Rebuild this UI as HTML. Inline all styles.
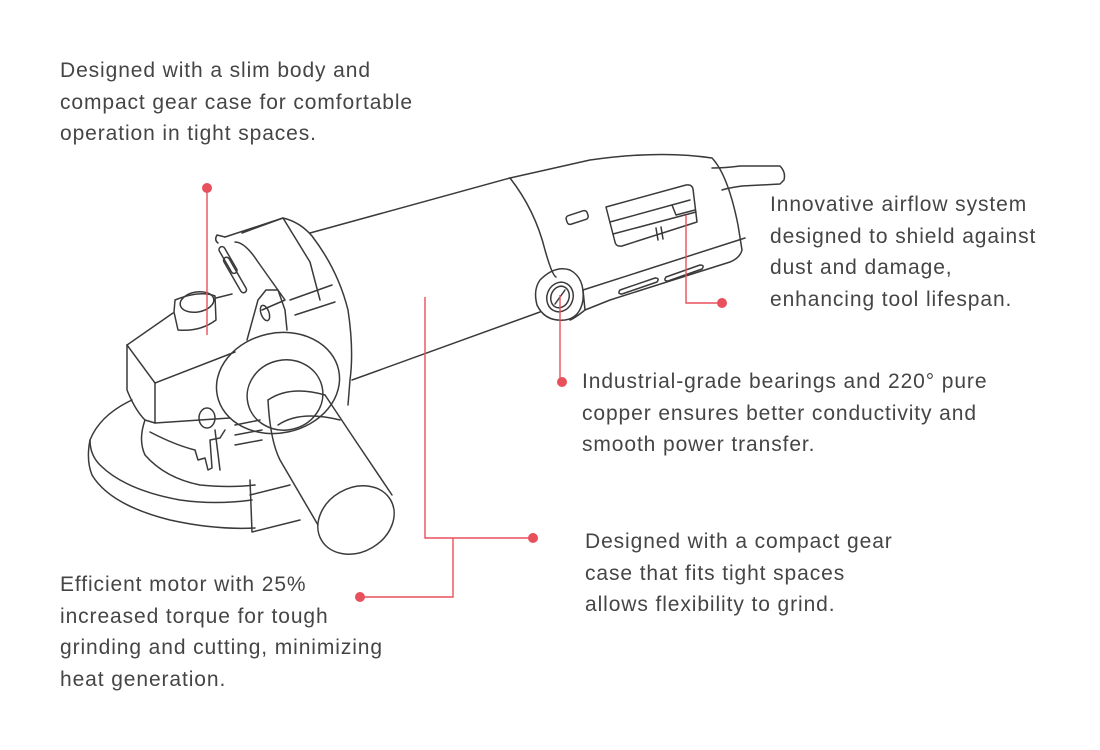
<!DOCTYPE html>
<html><head><meta charset="utf-8"><style>
html,body{margin:0;padding:0;background:#fff;}
body{width:1100px;height:750px;position:relative;overflow:hidden;font-family:"Liberation Sans",sans-serif;}
.t{position:absolute;color:#454545;font-size:21px;line-height:31.5px;letter-spacing:0.9px;white-space:nowrap;}
svg{position:absolute;left:0;top:0;}
</style></head><body>
<svg width="1100" height="750" viewBox="0 0 1100 750">
<g fill="none" stroke="#3a3a3a" stroke-width="1.5" stroke-linejoin="round" stroke-linecap="round">
<path d="M310 233 L510 178"/>
<path d="M352 380 L540 312"/>
<path d="M510 178 L590 160 Q660 150 712 158 Q728 175 738 225 L742 250 Q740 258 730 262 L610 300 L585 310 Q575 318 570 320"/>
<path d="M510 178 Q535 210 545 250 Q552 275 556 277"/>
<path d="M585 310 L583 290 L745 238"/>
<path d="M712 168 Q725 168 740 166 L780 166 Q786 172 784 180 L780 184 L742 186 Q728 188 722 190"/>
<path d="M606 207 L686 185 Q692 184 693 189 L697 222 L622 246 Q616 247 615 242 Z"/>
<path d="M610 222 L690 200"/>
<path d="M613 234 L696 212"/>
<path d="M672 205 L676 215 L695 210"/>
<path d="M656 228 L658 240 M661 227 L663 239"/>
<rect x="566" y="213" width="22" height="9" rx="3" transform="rotate(-18 577 217)"/>
<path d="M620 290 L655 278 Q660 278 657 282 L622 294 Q617 294 620 290Z"/>
<path d="M666 277 L700 265 Q705 265 702 269 L668 281 Q663 281 666 277Z"/>
<path d="M540 280 Q555 265 570 270 Q585 278 583 300 Q580 318 565 320 Q545 322 537 305 Q533 290 540 280Z"/>
<ellipse cx="560" cy="297" rx="13" ry="15" transform="rotate(20 560 297)"/>
<ellipse cx="560" cy="297" rx="9" ry="11" transform="rotate(20 560 297)"/>
<path d="M555 304 L565 290"/>
<path d="M225 237 L283 218 Q300 222 312 236 Q338 270 348 310 Q354 350 350 380 L348 405"/>
<path d="M242 233 L283 218 L310 262 L320 300"/>
<path d="M290 300 L332 285 M295 315 L335 302"/>
<path d="M235 242 Q245 242 258 262 L285 300 L262 310"/>
<rect x="225" y="245" width="6" height="30" rx="3" transform="rotate(-30 228 260)"/>
<rect x="232" y="255" width="6" height="40" rx="3" transform="rotate(-30 235 275)"/>
<path d="M218 243 Q214 240 217 235 L225 237"/>
<path d="M247 340 L258 300 L266 290 L278 290 L285 310 L287 330"/>
<ellipse cx="265" cy="313" rx="4" ry="8" transform="rotate(-20 265 313)"/>
<path d="M127 345 L173 313"/>
<path d="M127 345 L155 383 L235 352"/>
<path d="M155 383 L155 423"/>
<path d="M127 345 L127 390 Q135 410 145 420 L155 423 L230 418"/>
<path d="M216 298 L232 294"/>
<path d="M174 312 L175 300 Q200 290 215 296 L216 320 Q200 332 178 330 Z"/>
<ellipse cx="197" cy="302" rx="17" ry="10" transform="rotate(-10 197 302)"/>
<ellipse cx="278" cy="383" rx="62" ry="50" transform="rotate(-12 278 383)"/>
<ellipse cx="285" cy="395" rx="38" ry="35" transform="rotate(-12 285 395)"/>
<path d="M268 400 Q290 385 325 395"/>
<path d="M268 400 Q270 440 280 460 L318 525"/>
<path d="M325 395 L355 440 L392 495"/>
<path d="M278 425 Q300 410 340 420"/>
<ellipse cx="356" cy="520" rx="40" ry="32" transform="rotate(-30 356 520)"/>
<path d="M132 400 Q100 415 90 440 Q86 460 92 475 Q110 505 170 520 Q215 530 255 528"/>
<path d="M90 440 Q90 455 100 465 Q125 490 180 500 Q215 505 252 500"/>
<path d="M145 420 Q138 440 145 455 Q165 478 200 485 Q230 488 255 485"/>
<path d="M250 480 L252 532 L300 520"/>
<path d="M250 495 L290 485"/>
<path d="M150 432 Q175 445 195 450 L198 460 L205 458 L208 470 L212 468 L210 440 L220 438 L225 430"/>
<path d="M215 430 L220 470"/>
<ellipse cx="207" cy="418" rx="8" ry="10"/>
<path d="M235 425 L260 420 M235 435 L262 430 M235 445 L262 440"/>
</g>
<g stroke="#e8505b" stroke-width="1.4" fill="none">
<path d="M207 188 V335"/>
<path d="M425 297 V538 H533"/>
<path d="M453 538 V597 H360"/>
<path d="M560 295 V382"/>
<path d="M686 215 V303 H722"/>
</g>
<g fill="#e8505b">
<circle cx="207" cy="188" r="5"/>
<circle cx="533" cy="538" r="5"/>
<circle cx="360" cy="597" r="5"/>
<circle cx="562" cy="382" r="5"/>
<circle cx="722" cy="303" r="5"/>
</g>
</svg>
<div class="t" style="left:60px;top:55px;">Designed with a slim body and<br>compact gear case for comfortable<br>operation in tight spaces.</div>
<div class="t" style="left:770px;top:189px;">Innovative airflow system<br>designed to shield against<br>dust and damage,<br>enhancing tool lifespan.</div>
<div class="t" style="left:582px;top:366px;">Industrial-grade bearings and 220° pure<br>copper ensures better conductivity and<br>smooth power transfer.</div>
<div class="t" style="left:585px;top:526px;">Designed with a compact gear<br>case that fits tight spaces<br>allows flexibility to grind.</div>
<div class="t" style="left:60px;top:569px;">Efficient motor with 25%<br>increased torque for tough<br>grinding and cutting, minimizing<br>heat generation.</div>
</body></html>
